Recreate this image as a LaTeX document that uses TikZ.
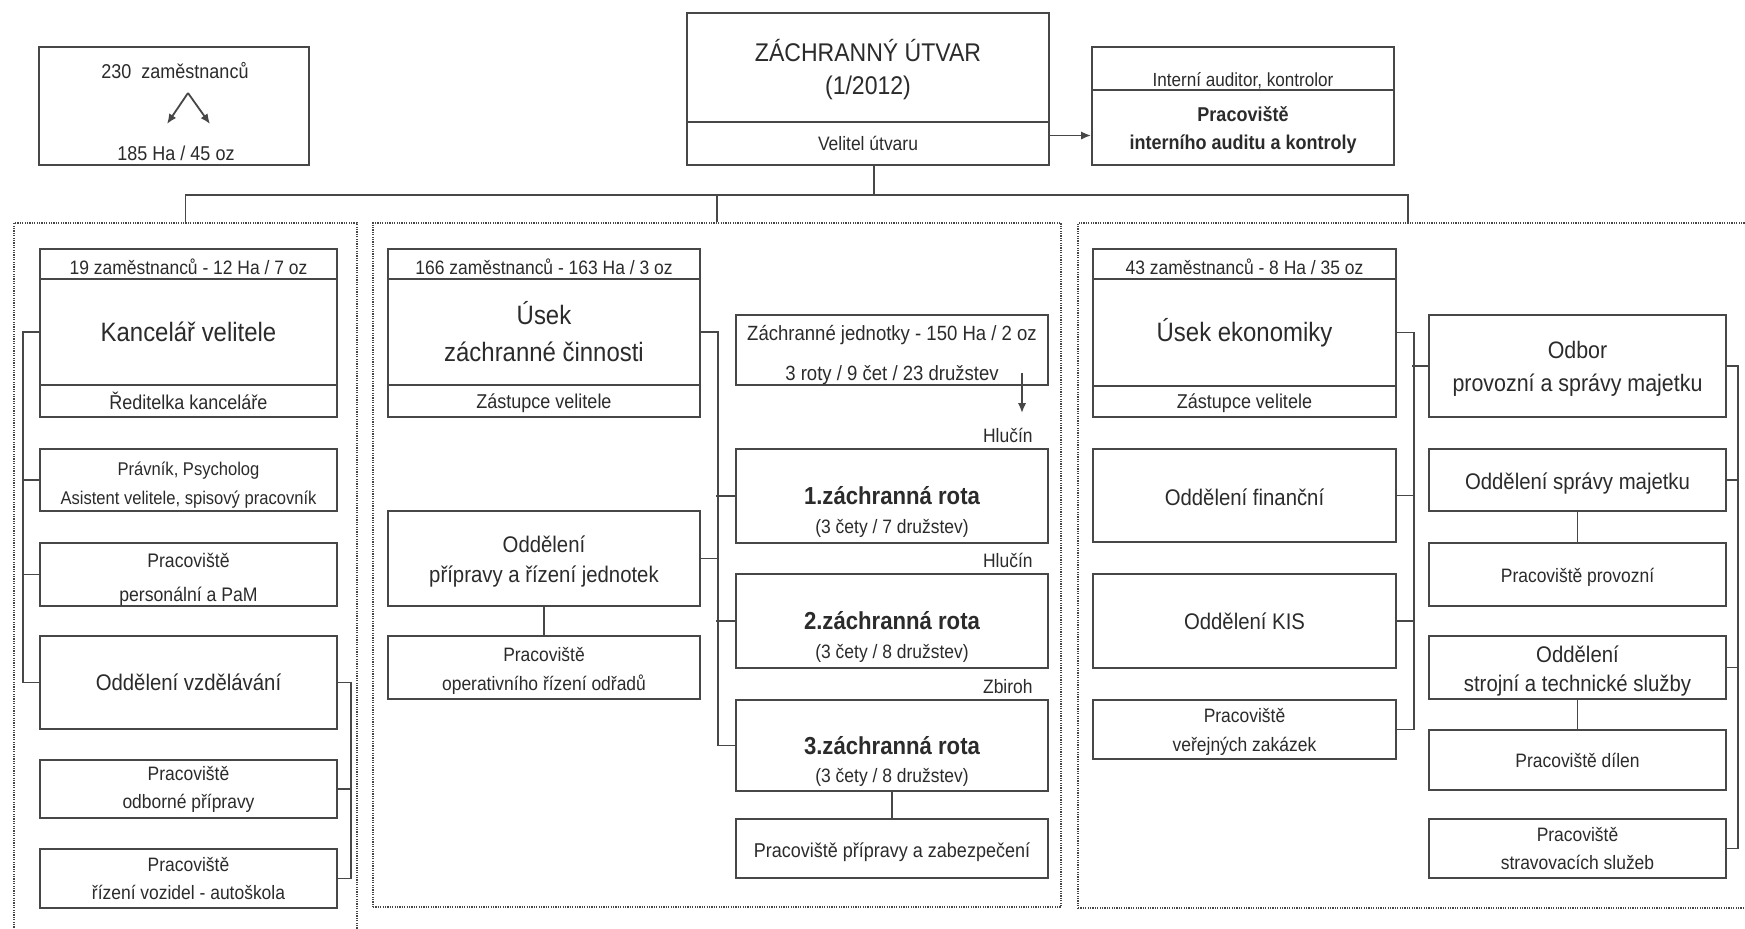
\documentclass[tikz,border=0pt]{standalone}
\usepackage{fontspec}
\setmainfont{Liberation Sans}
\newfontfamily\nfont[FakeStretch=0.9]{Liberation Sans}
\usetikzlibrary{calc,arrows.meta}
\definecolor{ink}{HTML}{2B2B2B}
\definecolor{edge}{HTML}{474747}

\tikzset{
  box/.style={draw=edge, line width=1pt, fill=white, inner sep=0pt, align=center, text=ink},
  txt/.style={inner sep=0pt, align=center, text=ink},
  fs/.style={font=\nfont\fontsize{9.7}{#1}\selectfont}, fs/.default=14.5,
  fm/.style={font=\nfont\fontsize{11.3}{#1}\selectfont}, fm/.default=15,
  fl/.style={font=\nfont\fontsize{13.3}{#1}\selectfont}, fl/.default=18.5,
  fb/.style={font=\nfont\bfseries\fontsize{12.3}{15}\selectfont},
  conn/.style={draw=edge, line width=0.9pt},
  arr/.style={conn, -{Latex[length=5pt,width=4.2pt]}},
  frame/.style={draw=edge, line width=0.85pt, dash pattern=on 0.6pt off 0.6pt, inner sep=0pt},
}

% box given by its corners (x1,y1) (x2,y2), in pixel units
\newcommand\bx[6][]{\node[box,#1,minimum width={(#5-#3)*0.5pt},minimum height={(#6-#4)*0.5pt}] (#2) at ({(#3+#5)/2},{(#4+#6)/2})}
% shift a line of text down without changing its reported size
\newcommand\low[2]{\raisebox{-#1}[\height][\depth]{#2}}

\begin{document}
\begin{tikzpicture}[x=0.5pt, y=-0.5pt]
\clip (0,0) rectangle (1745,928);
\fill[white] (0,0) rectangle (1745,928);

% ---- dotted section frames
\bx[frame,fill=none]{fL}{14}{223}{357}{960} {};
\bx[frame,fill=none]{fM}{373}{223}{1061}{907} {};
\bx[frame,fill=none]{fR}{1078}{223}{1790}{908} {};

% ---- headcount box
\bx{stat}{39}{47}{309}{165} {};
\node[txt, font=\nfont\fontsize{10}{14}\selectfont] (statA) at (175,71) {230\ \ zaměstnanců};
\node[txt, font=\nfont\fontsize{10}{14}\selectfont] (statB) at (176,153) {185 Ha / 45 oz};
\coordinate (apex) at (188,93);
\coordinate (tipL) at (167,124);
\coordinate (tipR) at (210,124);
\draw[arr] (apex) -- (tipL);
\draw[arr] (apex) -- (tipR);

% ---- head of the unit
\bx[font=\nfont\fontsize{12.8}{16.5}\selectfont]{ttlA}{687}{13}{1049}{122} {\low{1pt}{ZÁCHRANNÝ ÚTVAR}\\\low{1pt}{(1/2012)}};
\bx[fs]{ttlB}{687}{122}{1049}{165} {Velitel útvaru};

\bx[font=\nfont\fontsize{9.5}{14}\selectfont]{audA}{1092}{47}{1394}{90} {\low{6pt}{Interní auditor, kontrolor}};
\bx[font=\nfont\bfseries\fontsize{10}{14}\selectfont]{audB}{1092}{90}{1394}{165} {\low{1.5pt}{Pracoviště}\\\low{1.5pt}{interního auditu a kontroly}};
\draw[arr] ($(ttlB.east)+(0,-8)$) -- ($(audB.west)+(0,8)$);

% ---- distribution bus
\coordinate (bus) at (874,195);
\coordinate (dropR) at (1408,195);
\draw[conn] (ttlB.south -| bus) -- (bus);
\draw[conn] (fL.north) -- (fL.north |- bus) -- (dropR) -- (dropR |- fR.north);
\draw[conn] (fM.north) -- (fM.north |- bus);

% ---- left section: office of the commander
\bx[fs]{k0}{40}{249}{337}{279} {\low{1.5pt}{19 zaměstnanců - 12 Ha / 7 oz}};
\bx[fl]{k1}{40}{279}{337}{385} {Kancelář velitele};
\bx[font=\nfont\fontsize{10}{14}\selectfont]{k2}{40}{385}{337}{417} {Ředitelka kanceláře};
\bx[font=\nfont\fontsize{9.2}{14.5}\selectfont]{l2}{40}{449}{337}{511} {\low{2.5pt}{Právník, Psycholog}\\\low{2.5pt}{Asistent velitele, spisový pracovník}};
\bx[font=\nfont\fontsize{9.8}{17}\selectfont]{l3}{40}{543}{337}{606} {\low{2.5pt}{Pracoviště}\\\low{2.5pt}{personální a PaM}};
\bx[fm]{l4}{40}{636}{337}{729} {Oddělení vzdělávání};
\bx[fs=14]{l5}{40}{760}{337}{818} {Pracoviště\\odborné přípravy};
\bx[fs=14]{l6}{40}{849}{337}{908} {Pracoviště\\řízení vozidel - autoškola};

\draw[conn] (k1.west) -- ++(-16,0) |- (l4.west);
\draw[conn] (l2.west) -- ++(-16,0);
\draw[conn] (l3.west) -- ++(-16,0);
\draw[conn] (l4.east) -- ++(13,0) |- (l6.east);
\draw[conn] (l5.east) -- ++(13,0);

% ---- middle section: rescue operations
\bx[fs]{u0}{388}{249}{700}{279} {\low{1.5pt}{166 zaměstnanců - 163 Ha / 3 oz}};
\bx[fl]{u1}{388}{279}{700}{385} {Úsek\\záchranné činnosti};
\bx[font=\nfont\fontsize{10}{14}\selectfont]{u2}{388}{385}{700}{417} {\low{1pt}{Zástupce velitele}};
\bx[fm]{op}{388}{511}{700}{606} {\low{1.5pt}{Oddělení}\\\low{1.5pt}{přípravy a řízení jednotek}};
\bx[fs]{oo}{388}{636}{700}{699} {\low{1.5pt}{Pracoviště}\\\low{1.5pt}{operativního řízení odřadů}};

\bx[font=\nfont\fontsize{10.3}{20}\selectfont]{zj}{736}{315}{1048}{385} {\low{2.5pt}{Záchranné jednotky - 150 Ha / 2 oz}\\\low{2.5pt}{3 roty / 9 čet / 23 družstev}};
\draw[arr] ($(zj.south east)+(-27,-13)$) -- ($(zj.south east)+(-27,27)$);

\bx[fb]{r1}{736}{449}{1048}{543} {1.záchranná rota};
\bx[fb]{r2}{736}{574}{1048}{668} {2.záchranná rota};
\bx[fb]{r3}{736}{700}{1048}{791} {3.záchranná rota};
\node[txt, fs] (r1s) at ($(r1.center)+(0,32)$) {(3 čety / 7 družstev)};
\node[txt, fs] (r2s) at ($(r2.center)+(0,32)$) {(3 čety / 8 družstev)};
\node[txt, fs] (r3s) at ($(r3.center)+(0,32)$) {(3 čety / 8 družstev)};
\node[txt, fs, anchor=base east] (loc1) at ($(r1.north east)+(-16,-6)$) {Hlučín};
\node[txt, fs, anchor=base east] (loc2) at ($(r2.north east)+(-16,-6)$) {Hlučín};
\node[txt, fs, anchor=base east] (loc3) at ($(r3.north east)+(-16,-6)$) {Zbiroh};
\bx[font=\nfont\fontsize{10}{14}\selectfont]{zb}{736}{819}{1048}{878} {\low{2pt}{Pracoviště přípravy a zabezpečení}};

\draw[conn] (u1.east) -- ++(17,0) |- (r3.west);
\draw[conn] (r1.west) -- ++(-19,0);
\draw[conn] (r2.west) -- ++(-19,0);
\draw[conn] (op.east) -- ++(17,0);
\draw[conn] (op.south) -- (oo.north);
\draw[conn] (r3.south) -- (zb.north);

% ---- right section: economy
\bx[fs]{e0}{1093}{249}{1396}{279} {\low{1.5pt}{43 zaměstnanců - 8 Ha / 35 oz}};
\bx[fl]{e1}{1093}{279}{1396}{386} {Úsek ekonomiky};
\bx[font=\nfont\fontsize{10}{14}\selectfont]{e2}{1093}{386}{1396}{417} {\low{1pt}{Zástupce velitele}};
\bx[fm]{fi}{1093}{449}{1396}{542} {\low{1pt}{Oddělení finanční}};
\bx[fm]{ki}{1093}{574}{1396}{668} {Oddělení KIS};
\bx[fs]{vz}{1093}{700}{1396}{759} {\low{1pt}{Pracoviště}\\\low{1pt}{veřejných zakázek}};

\bx[font=\nfont\fontsize{11.9}{16.5}\selectfont]{ob}{1429}{315}{1726}{417} {\low{1.5pt}{Odbor}\\\low{1.5pt}{provozní a správy majetku}};
\bx[fm]{sm}{1429}{449}{1726}{511} {\low{2pt}{Oddělení správy majetku}};
\bx[fs]{pp}{1429}{543}{1726}{606} {\low{1.5pt}{Pracoviště provozní}};
\bx[fm=14.5]{st}{1429}{636}{1726}{699} {\low{2pt}{Oddělení}\\\low{2pt}{strojní a technické služby}};
\bx[fs]{di}{1429}{730}{1726}{790} {Pracoviště dílen};
\bx[fs=14]{sv}{1429}{819}{1726}{878} {Pracoviště\\stravovacích služeb};

\draw[conn] (e1.east) -- ++(17,0) |- (vz.east);
\draw[conn] (ob.west) -- ++(-16,0);
\draw[conn] (fi.east) -- ++(17,0);
\draw[conn] (ki.east) -- ++(17,0);
\draw[conn] (ob.east) -- ++(11,0) |- (sv.east);
\draw[conn] (sm.east) -- ++(11,0);
\draw[conn] (st.east) -- ++(11,0);
\draw[conn] (sm.south) -- (pp.north);
\draw[conn] (st.south) -- (di.north);
\end{tikzpicture}
\end{document}
